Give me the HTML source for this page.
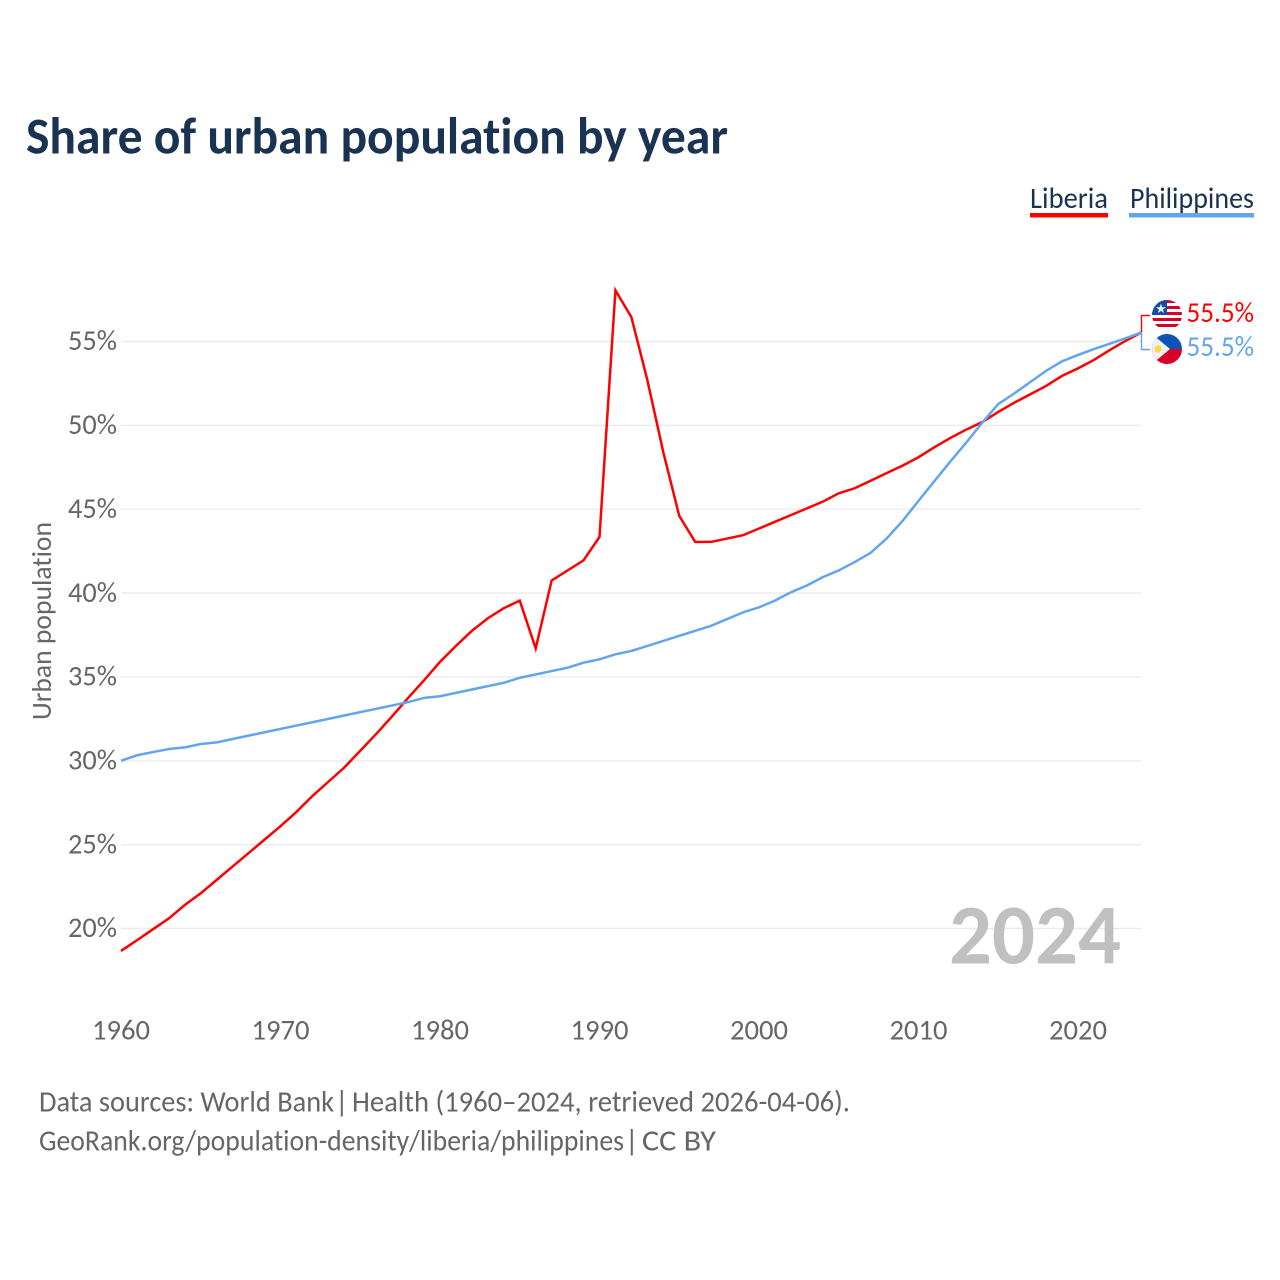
<!DOCTYPE html>
<html lang="en">
<head>
<meta charset="utf-8">
<title>Share of urban population by year</title>
<style>
html,body{margin:0;padding:0;background:#fff;width:1280px;height:1280px;overflow:hidden}
svg{display:block}
text{font-family:"Carlito","Lato","Liberation Sans",sans-serif;font-variant-ligatures:none}
</style>
</head>
<body>
<svg id="chart" xmlns="http://www.w3.org/2000/svg" width="1280" height="1280" viewBox="0 0 1280 1280">
  <defs>
    <clipPath id="clip-lr"><circle cx="1167" cy="315" r="15"/></clipPath>
    <clipPath id="clip-ph"><circle cx="1167" cy="349" r="15"/></clipPath>
  </defs>
  <text x="26" y="153.5" font-size="52" font-weight="700" fill="#1a3352" textLength="702" lengthAdjust="spacingAndGlyphs">Share of urban population by year</text>

  <g>
    <text x="1030" y="208" font-size="29.5" fill="#1a3352" textLength="78" lengthAdjust="spacingAndGlyphs">Liberia</text>
    <rect x="1030" y="213" width="78" height="4.5" fill="#ff0000"/>
  </g>
  <g>
    <text x="1130" y="208" font-size="29.5" fill="#1a3352" textLength="124" lengthAdjust="spacingAndGlyphs">Philippines</text>
    <rect x="1129" y="213" width="125" height="4.5" fill="#62a5ee"/>
  </g>

  <g id="grid"></g>
  <g id="yticks"></g>
  <g id="xticks"></g>
  <text transform="translate(51,621) rotate(-90)" text-anchor="middle" font-size="28" fill="#666666" textLength="198" lengthAdjust="spacingAndGlyphs">Urban population</text>

  <text x="949" y="963.5" font-size="85" font-weight="700" fill="#c0c0c0" textLength="172" lengthAdjust="spacingAndGlyphs">2024</text>

  <g id="series"></g>

  <path d="M1150 315.5H1141.5V332" fill="none" stroke="#ff0000" stroke-width="1.4"/>
  <path d="M1150 349.5H1141.5V332" fill="none" stroke="#62a5ee" stroke-width="1.4"/>

  <g clip-path="url(#clip-lr)">
    <rect x="1152" y="300" width="30" height="30" fill="#ffffff"/>
    <rect x="1152" y="300" width="30" height="3" fill="#d80027"/>
    <rect x="1152" y="306" width="30" height="3" fill="#d80027"/>
    <rect x="1152" y="312" width="30" height="3" fill="#d80027"/>
    <rect x="1152" y="318" width="30" height="3" fill="#d80027"/>
    <rect x="1152" y="324" width="30" height="3" fill="#d80027"/>
    <rect x="1152" y="300" width="15" height="15" fill="#0f4fa8"/>
    <text x="1161" y="313" font-size="13" fill="#eef2f8" text-anchor="middle" style="font-family:'DejaVu Sans',sans-serif">★</text>
  </g>
  <g clip-path="url(#clip-ph)">
    <rect x="1152" y="334" width="30" height="15" fill="#0f52b8"/>
    <rect x="1152" y="349" width="30" height="15" fill="#d80027"/>
    <path d="M1152 334L1170 349L1152 364Z" fill="#f2f2f2"/>
    <circle cx="1158" cy="349" r="3.6" fill="#ffda44"/>
  </g>

  <text x="1186.5" y="322" font-size="29" fill="#ff0000" textLength="67.5" lengthAdjust="spacingAndGlyphs">55.5%</text>
  <text x="1186.5" y="356" font-size="29" fill="#62a5ee" textLength="67.5" lengthAdjust="spacingAndGlyphs">55.5%</text>

  <g font-size="29.5" fill="#666666">
    <text x="39" y="1111.5" textLength="295" lengthAdjust="spacingAndGlyphs">Data sources: World Bank</text>
    <text x="335" y="1111.5">|</text>
    <text x="352" y="1111.5" textLength="498" lengthAdjust="spacingAndGlyphs">Health (1960–2024, retrieved 2026-04-06).</text>
  </g>
  <g font-size="29.5" fill="#666666">
    <text x="39" y="1150.5" textLength="585" lengthAdjust="spacingAndGlyphs">GeoRank.org/population-density/liberia/philippines</text>
    <text x="625" y="1150.5">|</text>
    <text x="642" y="1150.5" textLength="74" lengthAdjust="spacingAndGlyphs">CC BY</text>
  </g>
</svg>
<script>
const startYear = 1960;
const liberia = [18.66,19.3,19.95,20.6,21.4,22.1,22.9,23.7,24.5,25.3,26.1,26.95,27.9,28.75,29.6,30.6,31.6,32.65,33.75,34.8,35.9,36.85,37.75,38.5,39.1,39.55,36.7,40.75,41.35,41.95,43.35,58.05,56.45,52.7,48.4,44.6,43.05,43.05,43.25,43.45,43.85,44.25,44.65,45.05,45.45,45.95,46.25,46.7,47.15,47.6,48.1,48.7,49.25,49.75,50.2,50.8,51.35,51.85,52.35,52.95,53.4,53.9,54.5,55.05,55.55];
const philippines = [30.0,30.33,30.52,30.7,30.8,31.0,31.1,31.3,31.5,31.7,31.9,32.1,32.3,32.5,32.7,32.9,33.1,33.3,33.5,33.75,33.85,34.05,34.25,34.45,34.65,34.95,35.15,35.35,35.55,35.85,36.05,36.35,36.55,36.85,37.15,37.45,37.75,38.05,38.45,38.85,39.15,39.55,40.05,40.45,40.95,41.35,41.85,42.4,43.25,44.3,45.5,46.68,47.85,48.98,50.17,51.27,51.9,52.58,53.25,53.82,54.2,54.55,54.87,55.2,55.55];
const yTickValues = [20,25,30,35,40,45,50,55];
const xTickValues = [1960,1970,1980,1990,2000,2010,2020];

const xScale = function (year) { return 121 + (year - 1960) * 15.95; };
const yScale = function (pct) { return 928.5 - (pct - 20) * 16.771; };
const NS = 'http://www.w3.org/2000/svg';

const grid = document.getElementById('grid');
const yticks = document.getElementById('yticks');
const xticks = document.getElementById('xticks');
const series = document.getElementById('series');

yTickValues.forEach(function (v) {
  const line = document.createElementNS(NS, 'line');
  
  
  line.setAttribute('x1', 121);
  line.setAttribute('x2', 1141);
  line.setAttribute('y1', yScale(v));
  line.setAttribute('y2', yScale(v));
  line.setAttribute('stroke', '#ebebeb');
  line.setAttribute('stroke-width', '1.4');
  grid.appendChild(line);

  const t = document.createElementNS(NS, 'text');
  
  
  t.setAttribute('x', 117);
  t.setAttribute('y', yScale(v) + 8.7);
  t.setAttribute('text-anchor', 'end');
  t.setAttribute('font-size', '29');
  t.setAttribute('fill', '#666666');
  t.setAttribute('textLength', '49');
  t.setAttribute('lengthAdjust', 'spacingAndGlyphs');
  t.textContent = v + '%';
  yticks.appendChild(t);
});

xTickValues.forEach(function (v) {
  const t = document.createElementNS(NS, 'text');
  
  
  t.setAttribute('x', xScale(v));
  t.setAttribute('y', 1039.5);
  t.setAttribute('text-anchor', 'middle');
  t.setAttribute('font-size', '29');
  t.setAttribute('fill', '#666666');
  t.setAttribute('textLength', '58');
  t.setAttribute('lengthAdjust', 'spacingAndGlyphs');
  t.textContent = v;
  xticks.appendChild(t);
});

function linePath(values) {
  return values.map(function (v, i) {
    return (i ? 'L' : 'M') + xScale(startYear + i).toFixed(2) + ' ' + yScale(v).toFixed(2);
  }).join('');
}

const philippinesLine = document.createElementNS(NS, 'path');


philippinesLine.setAttribute('d', linePath(philippines));
philippinesLine.setAttribute('fill', 'none');
philippinesLine.setAttribute('stroke', '#62a5ee');
philippinesLine.setAttribute('stroke-width', '2.5');
philippinesLine.setAttribute('stroke-linejoin', 'round');

const liberiaLine = document.createElementNS(NS, 'path');


liberiaLine.setAttribute('d', linePath(liberia));
liberiaLine.setAttribute('fill', 'none');
liberiaLine.setAttribute('stroke', '#ff0000');
liberiaLine.setAttribute('stroke-width', '2.5');
liberiaLine.setAttribute('stroke-linejoin', 'miter');

series.appendChild(liberiaLine);
series.appendChild(philippinesLine);
</script>
</body>
</html>
